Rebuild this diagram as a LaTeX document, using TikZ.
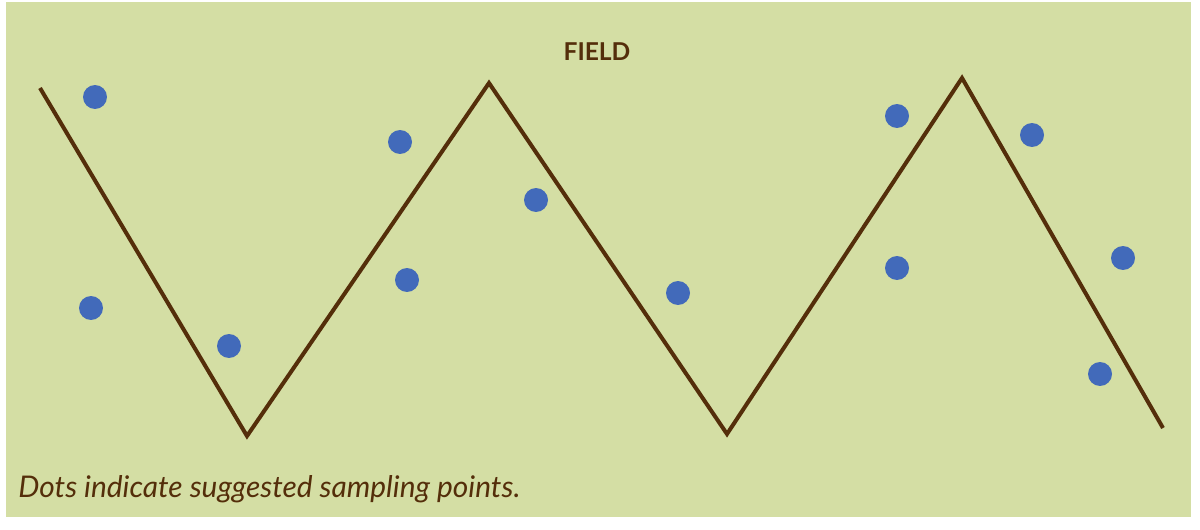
\documentclass[tikz,border=0pt]{standalone}
\usepackage{fontspec}
\setsansfont{Lato}
\definecolor{fieldgreen}{RGB}{212,222,164}
\definecolor{soil}{RGB}{84,46,10}
\definecolor{sample}{RGB}{66,106,186}
\tikzset{
    spot/.style={circle,fill=sample,inner sep=0pt,minimum size=0.48cm},
    walk/.style={-,draw=soil,line width=0.08cm,line join=miter},
    title/.style={font=\sffamily\bfseries\fontsize{14}{16}\selectfont,text=soil},
    caption/.style={font=\sffamily\itshape\fontsize{17}{20}\selectfont,text=soil,anchor=base west,inner sep=0pt},
}

\begin{document}
\begin{tikzpicture}[x=0.02cm,y=-0.02cm]
    \useasboundingbox (0,0) rectangle (1200,530);
    \fill[fieldgreen] (6,2) rectangle (1191,517);
    \node[title] (field) at (597,52) {FIELD};
    \coordinate (z0) at (40,88);
    \coordinate (z1) at (247,436);
    \coordinate (z2) at (489,83);
    \coordinate (z3) at (727,434);
    \coordinate (z4) at (962,78);
    \coordinate (z5) at (1163,428);
    \draw[walk] (z0) -- (z1) -- (z2) -- (z3) -- (z4) -- (z5);
    \node[spot] (p1) at (95,97) {};
    \node[spot] (p2) at (91,308) {};
    \node[spot] (p3) at (229,346) {};
    \node[spot] (p4) at (400,142) {};
    \node[spot] (p5) at (407,280) {};
    \node[spot] (p6) at (536,200) {};
    \node[spot] (p7) at (678,293) {};
    \node[spot] (p8) at (897,116) {};
    \node[spot] (p9) at (897,268) {};
    \node[spot] (p10) at (1032,135) {};
    \node[spot] (p11) at (1123,258) {};
    \node[spot] (p12) at (1100,374) {};
    \node[caption] (note) at (18,497) {Dots indicate suggested sampling points.};
\end{tikzpicture}
\end{document}
